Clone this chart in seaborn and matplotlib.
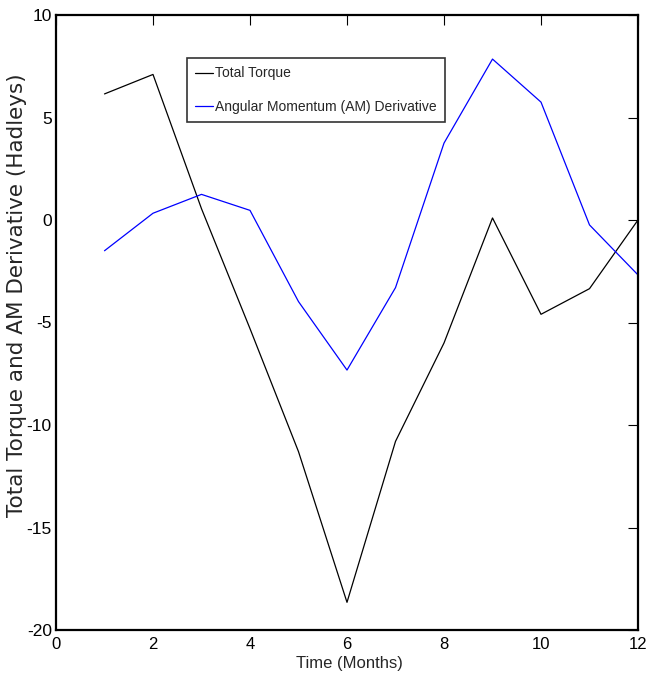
import matplotlib
matplotlib.use("Agg")
import matplotlib.pyplot as plt
import pandas as pd
import seaborn as sns

# Monthly values (Hadleys)
months = [1, 2, 3, 4, 5, 6, 7, 8, 9, 10, 11, 12]
total_torque = [6.15, 7.1, 0.55, -5.3, -11.3, -18.65, -10.8, -6.0, 0.1, -4.6, -3.35, 0.0]
am_derivative = [-1.5, 0.33, 1.25, 0.47, -3.98, -7.32, -3.3, 3.75, 7.85, 5.75, -0.24, -2.68]
series_names = ["Total Torque", "Angular Momentum (AM) Derivative"]
x_ticks = [0, 2, 4, 6, 8, 10, 12]
y_ticks = [-20, -15, -10, -5, 0, 5, 10]

df = pd.concat([
    pd.DataFrame({"month": months, "value": total_torque, "series": series_names[0]}),
    pd.DataFrame({"month": months, "value": am_derivative, "series": series_names[1]}),
])

sns.set_theme(style="white")
plt.rcParams["font.family"] = ["Liberation Sans", "DejaVu Sans"]

fig = plt.figure(figsize=(6.48, 6.88), dpi=100)
ax = fig.add_axes([56 / 648, 58 / 688, 582 / 648, 615 / 688])

sns.lineplot(data=df, x="month", y="value", hue="series",
             palette={series_names[0]: "black", series_names[1]: "#0000ff"},
             linewidth=0.9, ax=ax)

ax.set_xlim(0, 12)
ax.set_ylim(-20, 10)
ax.set_xticks(x_ticks)
ax.set_yticks(y_ticks)
ax.set_xticklabels([str(t) for t in x_ticks])
ax.set_yticklabels([str(t) for t in y_ticks])
ax.tick_params(direction="in", length=7, width=0.8, top=True, right=True,
               labelsize=12.5, colors="black")
ax.tick_params(axis="x", pad=5, labelsize=12)
ax.tick_params(axis="y", pad=3)
for s in ax.spines.values():
    s.set_linewidth(1.6)
    s.set_color("black")

ax.set_xlabel("Time (Months)", fontsize=12)
ax.xaxis.set_label_coords(0.505, -0.042)
ax.set_ylabel("Total Torque and AM Derivative (Hadleys)", fontsize=15.5,
              family=["DejaVu Sans"])
ax.yaxis.set_label_coords(-0.05, 0.545)

leg = ax.legend(loc="upper left", bbox_to_anchor=(0.225, 0.93), fontsize=10,
                frameon=True, fancybox=False, edgecolor="black",
                handlelength=1.3, handletextpad=0.15, borderpad=0.6,
                labelspacing=1.4, borderaxespad=0)
leg.get_frame().set_linewidth(1.2)
leg.set_title(None)

fig.savefig("out.png", dpi=100)
